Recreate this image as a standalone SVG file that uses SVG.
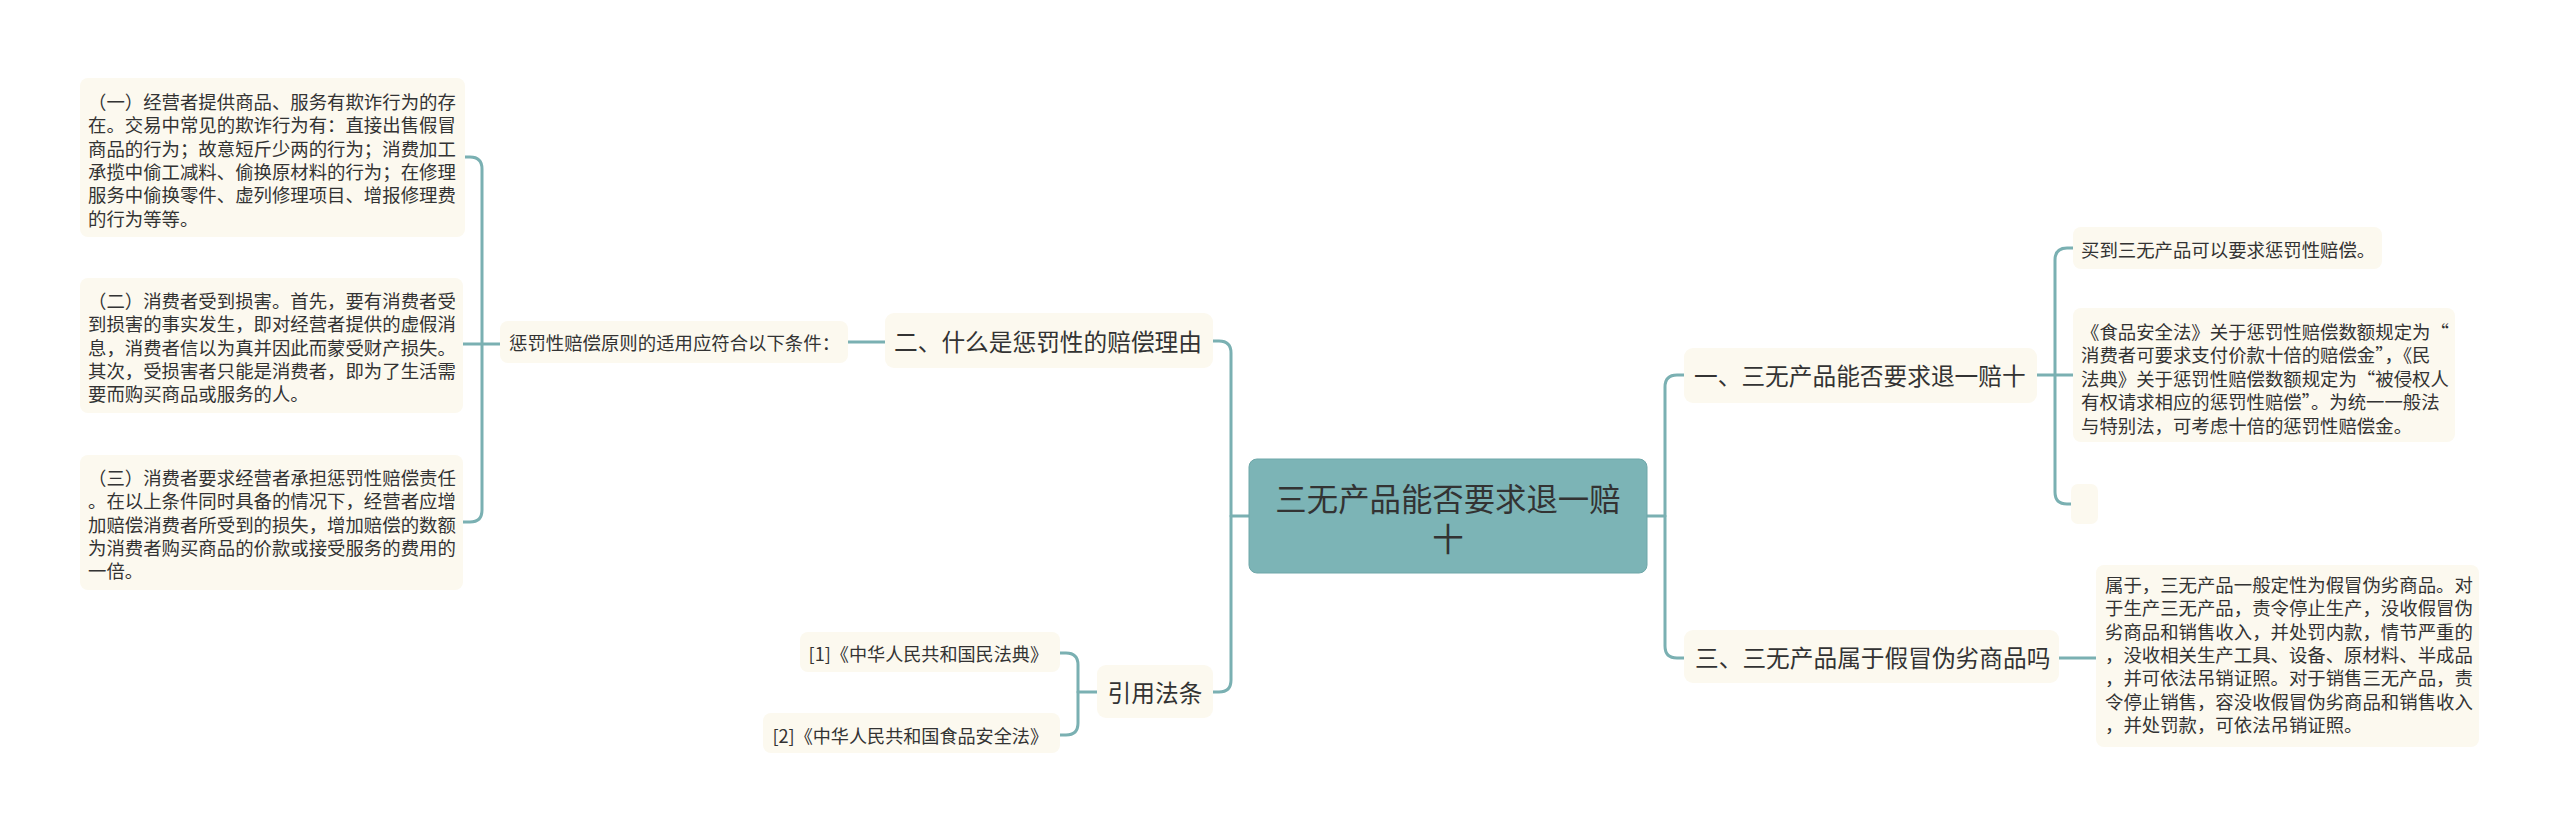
<svg xmlns="http://www.w3.org/2000/svg" width="2560" height="833" viewBox="0 0 2560 833">
<style>
.bg{fill:#ffffff}
.leaf{fill:#FCF9EF}
.root{fill:#7CB4B6;stroke:#6FA7A9;stroke-width:1}
.t{font-family:"Noto Sans CJK SC","Noto Sans",sans-serif;fill:#333333;dominant-baseline:central}
.s{font-size:18.4px}
.m{font-size:23.7px}
.c{font-size:18.1px}
.r{font-size:31.4px;text-anchor:middle}
.con{fill:none;stroke:#7AB0B2;stroke-width:3;stroke-linecap:round}
</style>
<rect class="bg" x="0" y="0" width="2560" height="833"/>
<g id="connectors">
<path class="con" d="M1249,516 H1231"/>
<path class="con" d="M1213,341 H1219 Q1231,341 1231,353 V680 Q1231,692 1219,692 H1213"/>
<path class="con" d="M1647,516 H1665"/>
<path class="con" d="M1684,375 H1677 Q1665,375 1665,387 V646 Q1665,658 1677,658 H1684"/>
<path class="con" d="M848,342 H885"/>
<path class="con" d="M465,157 H470 Q482,157 482,169 V510 Q482,522 470,522 H463"/>
<path class="con" d="M463,344 H500"/>
<path class="con" d="M1060,653 H1066 Q1078,653 1078,665 V723 Q1078,735 1066,735 H1060"/>
<path class="con" d="M1078,692 H1097"/>
<path class="con" d="M2037,375 H2073"/>
<path class="con" d="M2073,248 H2067 Q2055,248 2055,260 V492 Q2055,504 2067,504 H2071"/>
<path class="con" d="M2059,658 H2096"/>
</g>
<g id="root">
<rect class="root" x="1249" y="459" width="398" height="114" rx="8"/>
<text class="t r" x="1448" y="497">三无产品能否要求退一赔</text>
<text class="t r" x="1448" y="537">十</text>
</g>
<g id="n-er">
<rect class="leaf" x="885" y="313" width="328" height="55" rx="9"/>
<text class="t m" x="894" y="341">二、什么是惩罚性的赔偿理由</text>
</g>
<g id="n-tiaojian">
<rect class="leaf" x="500" y="321" width="348" height="42" rx="8"/>
<text class="t s" x="509" y="342">惩罚性赔偿原则的适用应符合以下条件：</text>
</g>
<g id="leaf-1">
<rect class="leaf" x="80" y="78" width="385" height="159" rx="8"/>
<text class="t s" x="88" y="101">（一）经营者提供商品、服务有欺诈行为的存</text>
<text class="t s" x="88" y="124.3">在。交易中常见的欺诈行为有：直接出售假冒</text>
<text class="t s" x="88" y="147.6">商品的行为；故意短斤少两的行为；消费加工</text>
<text class="t s" x="88" y="170.9">承揽中偷工减料、偷换原材料的行为；在修理</text>
<text class="t s" x="88" y="194.2">服务中偷换零件、虚列修理项目、增报修理费</text>
<text class="t s" x="88" y="217.5">的行为等等。</text>
</g>
<g id="leaf-2">
<rect class="leaf" x="80" y="278" width="383" height="135" rx="8"/>
<text class="t s" x="88" y="300">（二）消费者受到损害。首先，要有消费者受</text>
<text class="t s" x="88" y="323.3">到损害的事实发生，即对经营者提供的虚假消</text>
<text class="t s" x="88" y="346.6">息，消费者信以为真并因此而蒙受财产损失。</text>
<text class="t s" x="88" y="369.9">其次，受损害者只能是消费者，即为了生活需</text>
<text class="t s" x="88" y="393.2">要而购买商品或服务的人。</text>
</g>
<g id="leaf-3">
<rect class="leaf" x="80" y="455" width="383" height="135" rx="8"/>
<text class="t s" x="88" y="477">（三）消费者要求经营者承担惩罚性赔偿责任</text>
<text class="t s" x="88" y="500.3">。在以上条件同时具备的情况下，经营者应增</text>
<text class="t s" x="88" y="523.6">加赔偿消费者所受到的损失，增加赔偿的数额</text>
<text class="t s" x="88" y="546.9">为消费者购买商品的价款或接受服务的费用的</text>
<text class="t s" x="88" y="570.2">一倍。</text>
</g>
<g id="n-yinyong">
<rect class="leaf" x="1097" y="665" width="116" height="53" rx="9"/>
<text class="t m" x="1155" y="692" text-anchor="middle">引用法条</text>
</g>
<g id="cite-1">
<rect class="leaf" x="800" y="632" width="260" height="40" rx="8"/>
<text class="t c" x="1048" y="653" text-anchor="end">[1]《中华人民共和国民法典》</text>
</g>
<g id="cite-2">
<rect class="leaf" x="763" y="713" width="297" height="40" rx="8"/>
<text class="t c" x="1048" y="735" text-anchor="end">[2]《中华人民共和国食品安全法》</text>
</g>
<g id="n-yi">
<rect class="leaf" x="1684" y="348" width="353" height="55" rx="9"/>
<text class="t m" x="1694" y="375">一、三无产品能否要求退一赔十</text>
</g>
<g id="leaf-maidao">
<rect class="leaf" x="2073" y="227" width="309" height="42" rx="8"/>
<text class="t s" x="2081" y="249">买到三无产品可以要求惩罚性赔偿。</text>
</g>
<g id="leaf-shipin">
<rect class="leaf" x="2073" y="308" width="382" height="134" rx="8"/>
<text class="t s" x="2081" y="330.5">《食品安全法》关于惩罚性赔偿数额规定为“</text>
<text class="t s" x="2081" y="354">消费者可要求支付价款十倍的赔偿金”，《民</text>
<text class="t s" x="2081" y="377.5">法典》关于惩罚性赔偿数额规定为“被侵权人</text>
<text class="t s" x="2081" y="401">有权请求相应的惩罚性赔偿”。为统一一般法</text>
<text class="t s" x="2081" y="424.5">与特别法，可考虑十倍的惩罚性赔偿金。</text>
</g>
<g id="leaf-empty">
<rect class="leaf" x="2071" y="484" width="27" height="40" rx="7"/>
</g>
<g id="n-san">
<rect class="leaf" x="1684" y="630" width="375" height="53" rx="9"/>
<text class="t m" x="1695" y="657">三、三无产品属于假冒伪劣商品吗</text>
</g>
<g id="leaf-shuyu">
<rect class="leaf" x="2096" y="565" width="383" height="182" rx="8"/>
<text class="t s" x="2105" y="584">属于，三无产品一般定性为假冒伪劣商品。对</text>
<text class="t s" x="2105" y="607.3">于生产三无产品，责令停止生产，没收假冒伪</text>
<text class="t s" x="2105" y="630.6">劣商品和销售收入，并处罚内款，情节严重的</text>
<text class="t s" x="2105" y="653.9">，没收相关生产工具、设备、原材料、半成品</text>
<text class="t s" x="2105" y="677.2">，并可依法吊销证照。对于销售三无产品，责</text>
<text class="t s" x="2105" y="700.5">令停止销售，容没收假冒伪劣商品和销售收入</text>
<text class="t s" x="2105" y="723.8">，并处罚款，可依法吊销证照。</text>
</g>
</svg>
